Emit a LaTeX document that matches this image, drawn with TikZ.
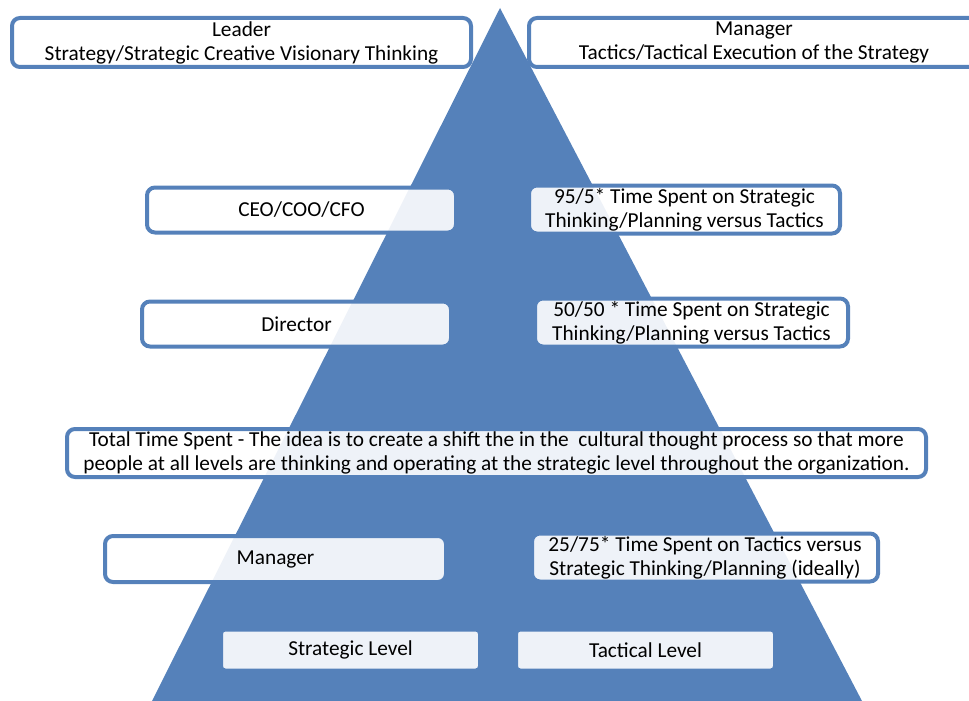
\documentclass[tikz,border=0pt]{standalone}
\usepackage{fontspec}
\setmainfont{Carlito}
\usetikzlibrary{positioning}
\definecolor{azulpiramide}{RGB}{85,129,186}

\tikzset{
  caixa/.style={draw=azulpiramide, line width=4pt, rounded corners=8pt, fill=white,
    fill opacity=0.9, text opacity=1, align=center, inner sep=0pt,
    font=\fontsize{21.3}{24}\selectfont},
  nivel/.style={caixa, rounded corners=4pt, minimum width=259pt, minimum height=41pt},
}

\begin{document}
\begin{tikzpicture}[x=1pt,y=-1pt]
        \clip (0,0) rectangle (969,701);
        % Piramide de fundo
        \fill[azulpiramide] (500,8) -- (862,701) -- (152,701) -- cycle;

        % Caixas do topo
        \node[caixa, minimum width=459pt, minimum height=49pt] (leader) at (241.5,42.5) {Leader\\Strategy/Strategic Creative Visionary Thinking};
        \node[caixa, minimum width=450pt, minimum height=49pt] (managertop) at (754,42.5) {Manager\\Tactics/Tactical Execution of the Strategy};

        % Niveis da organizacao
        \node[caixa, minimum width=309pt, minimum height=45pt] (ceo) at (301.5,210) {CEO/COO/CFO};
        \node[caixa, minimum width=311pt, minimum height=48pt] (ratiohigh) at (684.5,209.5) {95/5* Time Spent on Strategic\\Thinking/Planning versus Tactics};
        \node[caixa, minimum width=309pt, minimum height=45pt] (director) at (296.5,324) {Director};
        \node[caixa, minimum width=313pt, minimum height=48pt] (ratiomid) at (691.5,322.5) {50/50 * Time Spent on Strategic\\Thinking/Planning versus Tactics};
        \node[caixa, minimum width=859pt, minimum height=48pt] (total) at (496.5,453) {Total Time Spent - The idea is to create a shift the in the~ cultural thought process so that more\\people at all levels are thinking and operating at the strategic level throughout the organization.};
        \node[caixa, minimum width=341pt, minimum height=46pt] (managerlow) at (275.5,559) {Manager};
        \node[caixa, minimum width=346pt, minimum height=48pt] (ratiolow) at (705,557.5) {25/75* Time Spent on Tactics versus\\Strategic Thinking/Planning (ideally)};

        % Base da piramide
        \node[nivel] (strategic) at (350.5,650) {Strategic Level};
        \node[nivel, right=32pt of strategic] (tactical) {Tactical Level};
\end{tikzpicture}
\end{document}
